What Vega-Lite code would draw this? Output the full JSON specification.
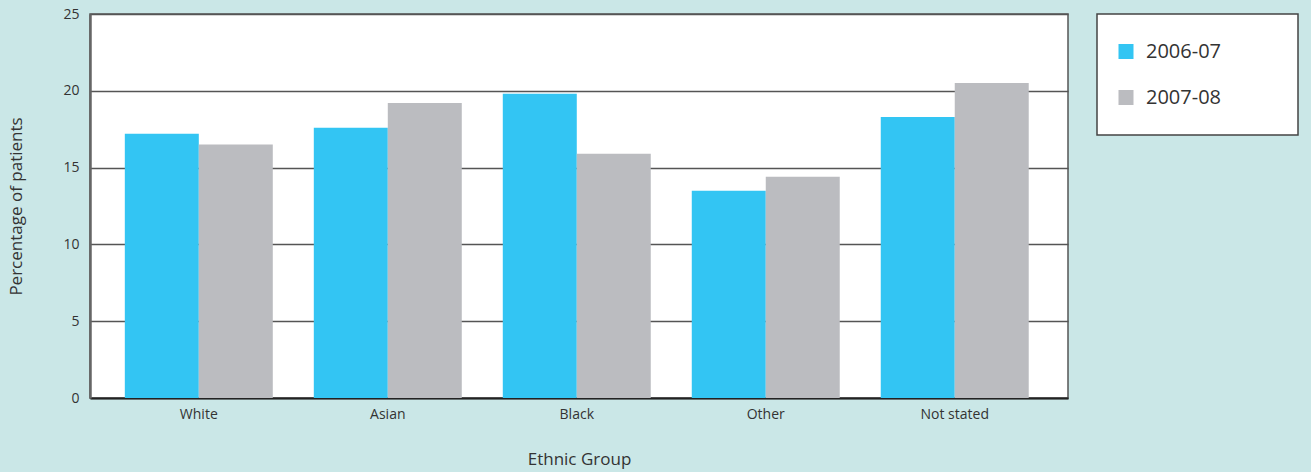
{
  "$schema": "https://vega.github.io/schema/vega-lite/v6.json",
  "width": 978,
  "height": 384,
  "autosize": {"type": "none"},
  "padding": {"left": 90, "top": 14, "right": 243, "bottom": 74},
  "background": "#cae7e7",
  "data": {
    "values": [
      {"group": "White", "year": "2006-07", "pct": 17.2},
      {"group": "White", "year": "2007-08", "pct": 16.5},
      {"group": "Asian", "year": "2006-07", "pct": 17.6},
      {"group": "Asian", "year": "2007-08", "pct": 19.2},
      {"group": "Black", "year": "2006-07", "pct": 19.8},
      {"group": "Black", "year": "2007-08", "pct": 15.9},
      {"group": "Other", "year": "2006-07", "pct": 13.5},
      {"group": "Other", "year": "2007-08", "pct": 14.4},
      {"group": "Not stated", "year": "2006-07", "pct": 18.3},
      {"group": "Not stated", "year": "2007-08", "pct": 20.5}
    ]
  },
  "mark": {"type": "bar"},
  "encoding": {
    "x": {
      "field": "group",
      "type": "nominal",
      "sort": ["White", "Asian", "Black", "Other", "Not stated"],
      "scale": {"paddingInner": 0.217, "paddingOuter": 0.196, "align": 0.47},
      "axis": {
        "title": "Ethnic Group",
        "labelAngle": 0,
        "ticks": false,
        "labelPadding": 9,
        "labelFontSize": 14,
        "titleFontSize": 17,
        "titleFontWeight": "normal",
        "titlePadding": 30,
        "domainColor": "#222222",
        "domainWidth": 2
      }
    },
    "xOffset": {
      "field": "year",
      "type": "nominal",
      "scale": {"paddingInner": 0, "paddingOuter": 0}
    },
    "y": {
      "field": "pct",
      "type": "quantitative",
      "scale": {"domain": [0, 25]},
      "axis": {
        "title": "Percentage of patients",
        "values": [0, 5, 10, 15, 20, 25],
        "ticks": false,
        "labelPadding": 11,
        "labelFontSize": 14,
        "titleFontSize": 17,
        "titleFontWeight": "normal",
        "titlePadding": 37,
        "domainColor": "#666666",
        "domainWidth": 2.5,
        "grid": true,
        "gridColor": "#555555",
        "gridWidth": 1.5,
        "gridOpacity": 1
      }
    },
    "color": {
      "field": "year",
      "type": "nominal",
      "scale": {"domain": ["2006-07", "2007-08"], "range": ["#33c5f3", "#bbbcc0"]},
      "legend": {
        "title": null,
        "orient": "none",
        "legendX": 1007,
        "legendY": 0,
        "padding": 19,
        "clipHeight": 37,
        "rowPadding": 9,
        "symbolType": "square",
        "symbolSize": 225,
        "symbolStrokeWidth": 0,
        "labelFontSize": 20,
        "labelOffset": 10,
        "labelColor": "#333333",
        "labelExpr": "datum.label + '\u00a0\u00a0\u00a0\u00a0\u00a0\u00a0\u00a0\u00a0\u00a0\u00a0\u00a0\u200b'",
        "labelLimit": 400,
        "fillColor": "#ffffff",
        "strokeColor": "#444444",
        "encode": {"legend": {"update": {"strokeWidth": {"value": 1.5}}}}
      }
    }
  },
  "config": {
    "font": "Open Sans",
    "view": {"fill": "#ffffff", "stroke": "#555555", "strokeWidth": 1.5},
    "axis": {"labelColor": "#333333", "titleColor": "#333333", "labelFont": "Open Sans", "titleFont": "Open Sans"},
    "legend": {"labelFont": "Open Sans"}
  }
}
